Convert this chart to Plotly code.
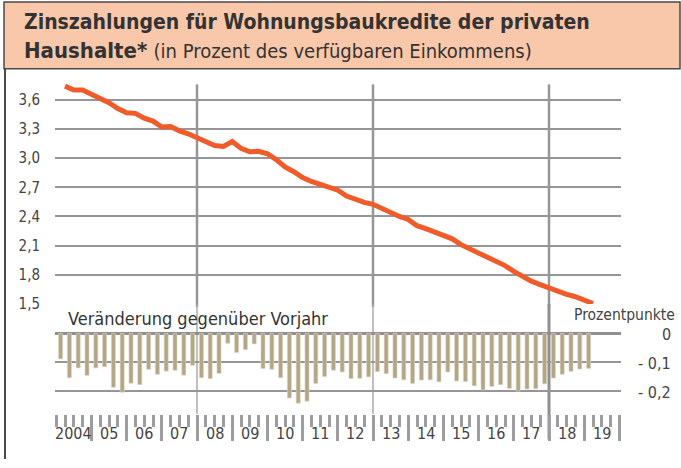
import plotly.graph_objects as go

# ---------------- data ----------------
years = list(range(2004, 2020))
year_labels = ["2004", "05", "06", "07", "08", "09", "10", "11", "12",
               "13", "14", "15", "16", "17", "18", "19"]
n_quarters = 61  # 2004Q1 .. 2019Q1

# interest payments for housing loans, % of disposable income (quarterly)
interest_share = [
    3.74, 3.70, 3.70, 3.66, 3.62, 3.57, 3.51, 3.465, 3.46, 3.41, 3.38, 3.32, 3.325, 3.28, 3.25, 3.21,
    3.17, 3.13, 3.12, 3.17, 3.10, 3.065, 3.07, 3.045, 2.985, 2.91, 2.86, 2.80, 2.76, 2.73, 2.705, 2.67,
    2.61, 2.575, 2.545, 2.525, 2.48, 2.44, 2.40, 2.37, 2.305, 2.275, 2.24, 2.205, 2.17, 2.11, 2.065, 2.02,
    1.975, 1.935, 1.895, 1.835, 1.78, 1.735, 1.70, 1.665, 1.63, 1.60, 1.575, 1.54, 1.505,
]

# change vs. previous year, percentage points (quarterly)
yoy_change = [
    -0.088, -0.153, -0.119, -0.145, -0.119, -0.115, -0.186, -0.203, -0.172, -0.177, -0.124, -0.141,
    -0.130, -0.127, -0.144, -0.110, -0.153, -0.156, -0.138, -0.034, -0.066, -0.056, -0.036, -0.121,
    -0.124, -0.153, -0.223, -0.241, -0.234, -0.173, -0.149, -0.127, -0.133, -0.156, -0.155, -0.150,
    -0.132, -0.139, -0.154, -0.160, -0.173, -0.161, -0.160, -0.167, -0.133, -0.164, -0.166, -0.181,
    -0.195, -0.183, -0.177, -0.190, -0.199, -0.192, -0.191, -0.174, -0.154, -0.141, -0.131, -0.123,
    -0.121,
]

top_tick_vals = [1.5, 1.8, 2.1, 2.4, 2.7, 3.0, 3.3, 3.6]
top_tick_text = ["1,5", "1,8", "2,1", "2,4", "2,7", "3,0", "3,3", "3,6"]
bottom_tick_vals = [0, -0.1, -0.2]
bottom_tick_text = ["0", "- 0,1", "- 0,2"]
grid_years = [2008, 2013, 2018]

# quarter positions on a continuous year axis
t_line = [2004 + (i + 1) / 4 for i in range(n_quarters)]      # end of quarter
t_bar = [2004 + (i + 0.5) / 4 for i in range(n_quarters)]     # middle of quarter

# ---------------- styling ----------------
W, H = 681, 468
FONT = "Liberation Sans Narrow, DejaVu Sans Condensed, Arial Narrow, sans-serif"
TXT = "#3a3a3a"
GRID = "#969699"


def px_x(p):
    return p / W


def px_y(p):
    return 1 - p / H


x_dom = [px_x(55), px_x(621)]
x_range = [2004 - 1.2 / 35.2, 2020 + 1.6 / 35.2]

fig = go.Figure()

fig.add_trace(go.Bar(
    x=t_bar, y=yoy_change, width=0.115,
    marker=dict(color="#b3a686", line=dict(width=0.6, color="#ddd5c2")),
    xaxis="x2", yaxis="y2", showlegend=False, hoverinfo="skip",
))

fig.add_trace(go.Scatter(
    x=t_line, y=interest_share, mode="lines",
    line=dict(color="#f15a29", width=5),
    xaxis="x", yaxis="y", showlegend=False, cliponaxis=False, hoverinfo="skip",
))

shapes = []
# title box
shapes.append(dict(type="rect", xref="paper", yref="paper",
                   x0=px_x(4), x1=px_x(680), y0=px_y(70), y1=px_y(2),
                   fillcolor="#f9c7a9", line=dict(color="#4a4a4a", width=1.5), layer="below"))
# left frame line
shapes.append(dict(type="line", xref="paper", yref="paper",
                   x0=px_x(5), x1=px_x(5), y0=px_y(70), y1=0,
                   line=dict(color="#4a4a4a", width=2)))
# vertical grid lines
for yr in grid_years:
    shapes.append(dict(type="line", xref="x", yref="paper", x0=yr, x1=yr,
                       y0=px_y(313), y1=px_y(86), line=dict(color=GRID, width=2.5), layer="below"))
    if yr == grid_years[-1]:
        shapes.append(dict(type="line", xref="x", yref="paper", x0=yr, x1=yr,
                           y0=px_y(448), y1=px_y(310), line=dict(color="#8f8f93", width=3), layer="below"))
    else:
        shapes.append(dict(type="line", xref="x", yref="paper", x0=yr, x1=yr,
                           y0=px_y(422), y1=px_y(310), line=dict(color="#ababab", width=1.5), layer="below"))

annotations = []
annotations.append(dict(xref="paper", yref="paper", x=px_x(22), y=px_y(22), xanchor="left", yanchor="middle",
                        text="<b>Zinszahlungen für Wohnungsbaukredite der privaten</b>", showarrow=False,
                        font=dict(family=FONT, size=21, color="#333333")))
annotations.append(dict(xref="paper", yref="paper", x=px_x(22), y=px_y(51), xanchor="left", yanchor="middle",
                        text="<b>Haushalte*</b> <span style='font-size:20px'>(in Prozent des verfügbaren Einkommens)</span>",
                        showarrow=False, font=dict(family=FONT, size=22, color="#333333")))
annotations.append(dict(xref="paper", yref="paper", x=px_x(66), y=px_y(325), xanchor="left", yanchor="middle",
                        text="Veränderung gegenüber Vorjahr", showarrow=False,
                        font=dict(family=FONT, size=18, color="#333333")))
annotations.append(dict(xref="paper", yref="paper", x=px_x(677), y=px_y(321), xanchor="right", yanchor="middle",
                        text="Prozentpunkte", showarrow=False,
                        font=dict(family=FONT, size=15.5, color="#444444")))
for v, t in zip(bottom_tick_vals, bottom_tick_text):
    annotations.append(dict(xref="paper", yref="y2", x=px_x(673), y=v, xanchor="right", yanchor="middle",
                            yshift=-1, text=t, showarrow=False, font=dict(family=FONT, size=16, color="#444444")))
for yr, lab in zip(years, year_labels):
    annotations.append(dict(xref="x2", yref="paper", x=yr + 0.5, y=px_y(442), xanchor="center", yanchor="middle",
                            text=lab, showarrow=False, font=dict(family=FONT, size=16, color="#444444")))

fig.update_layout(
    width=W, height=H, autosize=False,
    margin=dict(l=0, r=0, t=0, b=0),
    paper_bgcolor="white", plot_bgcolor="rgba(0,0,0,0)",
    font=dict(family=FONT, color=TXT),
    bargap=0,
    shapes=shapes, annotations=annotations,
    xaxis=dict(domain=x_dom, range=x_range, anchor="y", showgrid=False, zeroline=False,
               showticklabels=False, ticks="", showline=False, fixedrange=True),
    yaxis=dict(domain=[px_y(310), px_y(85)], range=[1.5, 1.5 + (310 - 85) / 99.2], anchor="x",
               tickmode="array", tickvals=top_tick_vals, ticktext=top_tick_text,
               showgrid=True, gridcolor=GRID, gridwidth=2, zeroline=False, ticks="",
               ticklabelstandoff=14, tickfont=dict(family=FONT, size=15, color="#444444"),
               showline=False, fixedrange=True),
    xaxis2=dict(domain=x_dom, range=x_range, anchor="y2", showgrid=False, zeroline=False,
                showticklabels=False, showline=False,
                tickmode="array", tickvals=[y + 1 for y in years],
                ticks="outside", ticklen=26, tickwidth=3, tickcolor="#9d9d9f",
                minor=dict(tickmode="linear", tick0=2004, dtick=0.25, ticks="outside",
                           ticklen=12, tickwidth=3, tickcolor="#9d9d9f", showgrid=False),
                fixedrange=True),
    yaxis2=dict(domain=[px_y(422), px_y(310)], range=[-82 / 295, 30 / 295], anchor="x2",
                tickmode="array", tickvals=[-0.1, -0.2], showticklabels=False,
                showgrid=True, gridcolor=GRID, gridwidth=2,
                zeroline=True, zerolinecolor="#8f8f93", zerolinewidth=3,
                ticks="", showline=False, fixedrange=True),
)

fig.write_html(
    "out.html",
    config={"displayModeBar": False, "staticPlot": True},
    post_script=(
        "document.documentElement.style.margin='0px';"
        "document.documentElement.style.overflow='hidden';"
        "document.body.style.margin='0px';"
        "document.body.style.padding='0px';"
        "document.body.style.overflow='hidden';"
    ),
)
